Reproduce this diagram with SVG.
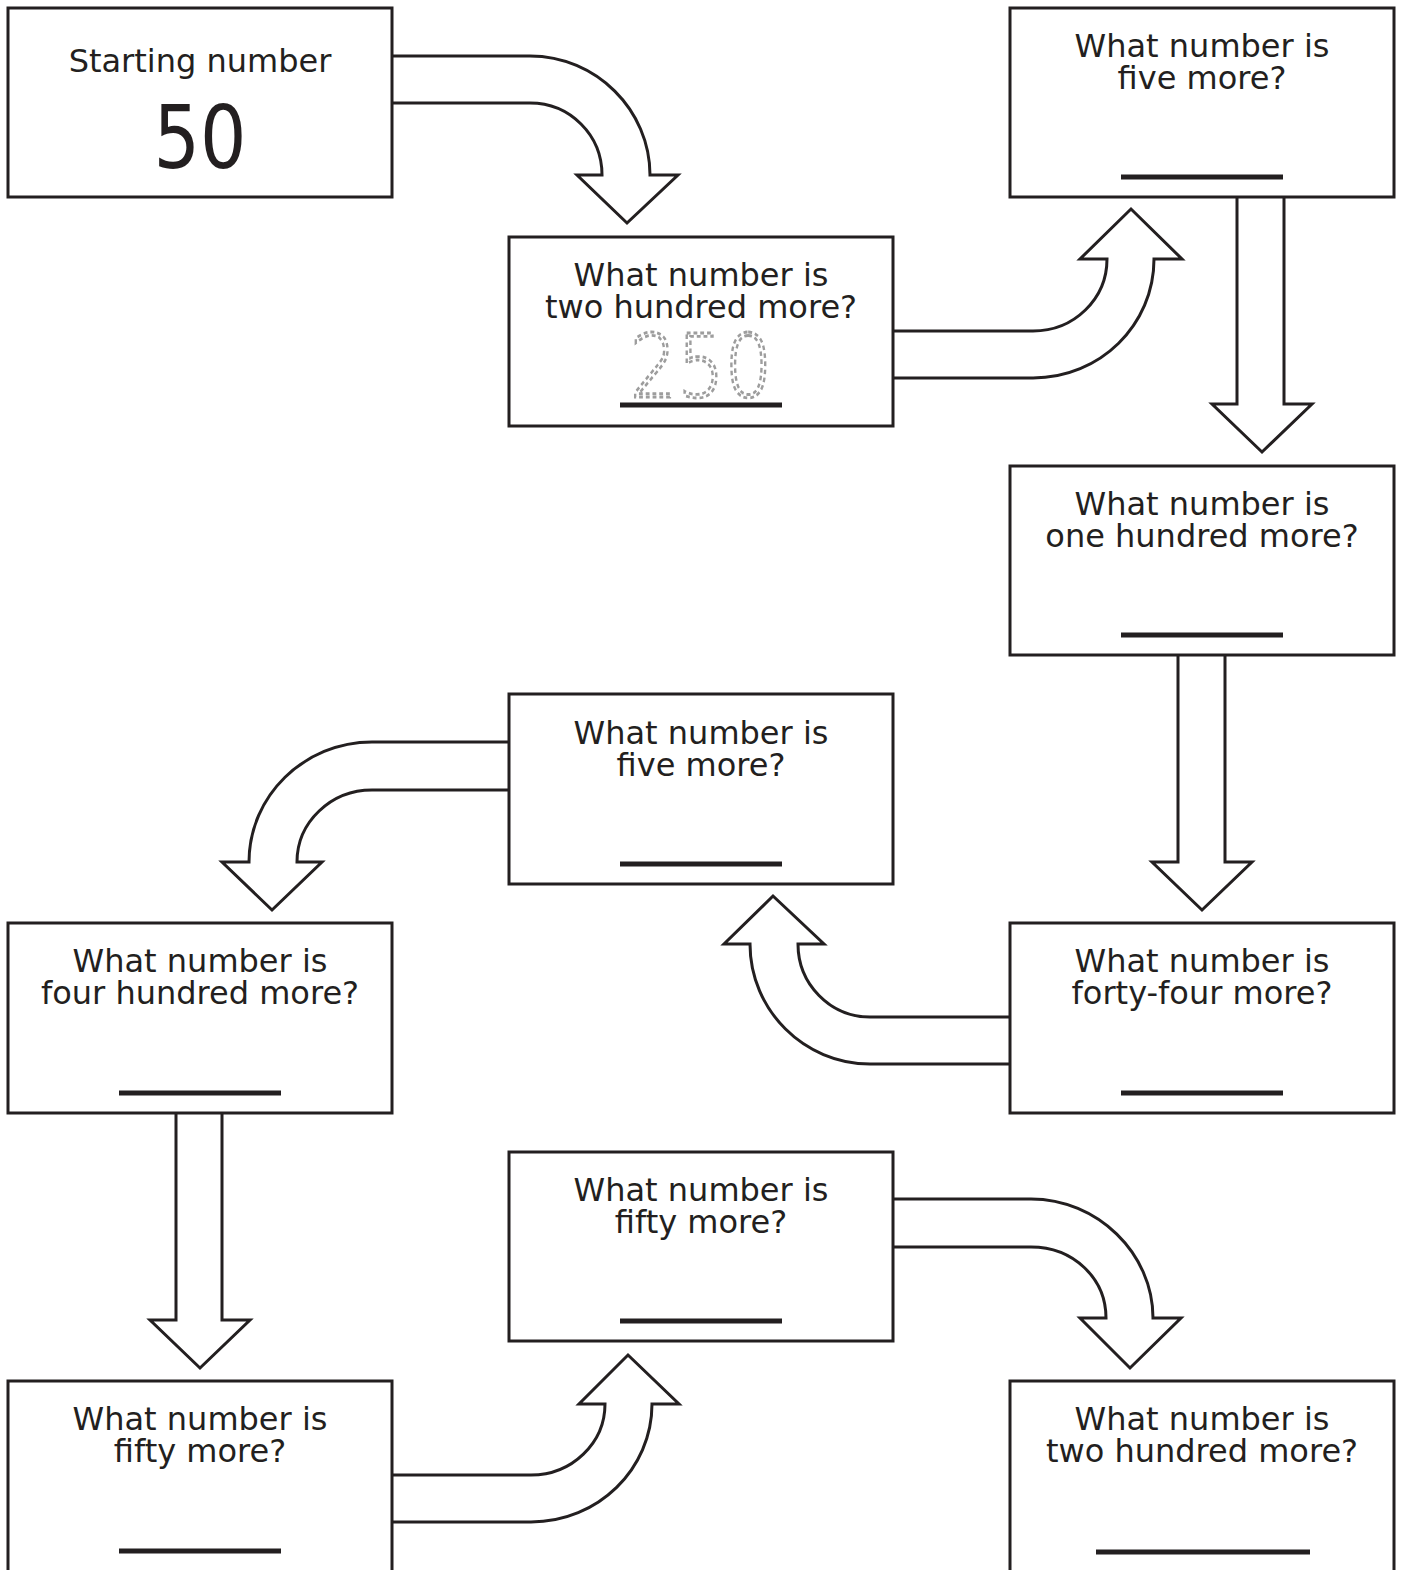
<svg xmlns="http://www.w3.org/2000/svg" width="1404" height="1570" viewBox="0 0 1404 1570">
<style>
.box{fill:#fff;stroke:#231f20;stroke-width:3}
.arr{fill:#fff;stroke:#231f20;stroke-width:3;stroke-linejoin:miter}
.t{font-family:"DejaVu Sans","Liberation Sans",sans-serif;font-size:32px;fill:#231f20;text-anchor:middle}
.ul{stroke:#231f20;stroke-width:5}
.big{font-family:"DejaVu Sans","Liberation Sans",sans-serif;font-size:88px;fill:#231f20;text-anchor:middle}
.trace{font-family:"DejaVu Sans","Liberation Sans",sans-serif;font-size:88px;font-weight:200;fill:none;stroke:#9d9d9d;stroke-width:2.8;stroke-dasharray:4.5 3.5;text-anchor:middle}
</style>
<rect width="1404" height="1570" fill="#fff"/>
<g id="connectors">
<path class="arr" d="M392,56 H530 C596,56 650,110 650,175 H678 L627,223 L577,175 H602 C602,135 570,103 530,103 H392"/>
<path class="arr" d="M893,378 H1033 C1100,378 1154,325 1154,259 H1182 L1131,209 L1080,259 H1107 C1107,299 1074,331 1033,331 H893"/>
<path class="arr" d="M1237,197 V404 H1212 L1262,452 L1312,404 H1284 V197"/>
<path class="arr" d="M1178,655 V862 H1152 L1202,910 L1252,862 H1225 V655"/>
<path class="arr" d="M1010,1064 H870 C804,1064 750,1010 750,944 H724 L773,896 L824,944 H798 C798,984 830,1017 870,1017 H1010"/>
<path class="arr" d="M509,742 H372 C304,742 249,796 249,862 H222 L272,910 L322,862 H297 C297,822 331,790 372,790 H509"/>
<path class="arr" d="M176,1113 V1320 H150 L200,1368 L250,1320 H222 V1113"/>
<path class="arr" d="M392,1522 H531 C598,1522 652,1469 652,1404 H679 L628,1355 L579,1404 H605 C605,1443 572,1475 531,1475 H392"/>
<path class="arr" d="M893,1199 H1031 C1097,1199 1153,1253 1153,1318 H1181 L1130,1368 L1080,1318 H1106 C1106,1278 1073,1247 1031,1247 H893"/>
</g>
<g id="start">
<rect class="box" x="8" y="8" width="384" height="189"/>
<text class="t" x="200" y="72">Starting number</text>
<text class="big" x="200" y="168" textLength="93" lengthAdjust="spacingAndGlyphs">50</text>
</g>
<g id="q1">
<rect class="box" x="509" y="237" width="384" height="189"/>
<text class="t" x="701" y="286">What number is</text>
<text class="t" x="701" y="318">two hundred more?</text>
<text class="trace" x="701" y="397" textLength="142" lengthAdjust="spacingAndGlyphs">250</text>
<line class="ul" x1="620" y1="405" x2="782" y2="405"/>
</g>
<g id="q2">
<rect class="box" x="1010" y="8" width="384" height="189"/>
<text class="t" x="1202" y="57">What number is</text>
<text class="t" x="1202" y="89">five more?</text>
<line class="ul" x1="1121" y1="177" x2="1283" y2="177"/>
</g>
<g id="q3">
<rect class="box" x="1010" y="466" width="384" height="189"/>
<text class="t" x="1202" y="515">What number is</text>
<text class="t" x="1202" y="547">one hundred more?</text>
<line class="ul" x1="1121" y1="635" x2="1283" y2="635"/>
</g>
<g id="q4">
<rect class="box" x="1010" y="923" width="384" height="190"/>
<text class="t" x="1202" y="972">What number is</text>
<text class="t" x="1202" y="1004">forty-four more?</text>
<line class="ul" x1="1121" y1="1093" x2="1283" y2="1093"/>
</g>
<g id="q5">
<rect class="box" x="509" y="694" width="384" height="190"/>
<text class="t" x="701" y="744">What number is</text>
<text class="t" x="701" y="776">five more?</text>
<line class="ul" x1="620" y1="864" x2="782" y2="864"/>
</g>
<g id="q6">
<rect class="box" x="8" y="923" width="384" height="190"/>
<text class="t" x="200" y="972">What number is</text>
<text class="t" x="200" y="1004">four hundred more?</text>
<line class="ul" x1="119" y1="1093" x2="281" y2="1093"/>
</g>
<g id="q7">
<rect class="box" x="8" y="1381" width="384" height="195"/>
<text class="t" x="200" y="1430">What number is</text>
<text class="t" x="200" y="1462">fifty more?</text>
<line class="ul" x1="119" y1="1551" x2="281" y2="1551"/>
</g>
<g id="q8">
<rect class="box" x="509" y="1152" width="384" height="189"/>
<text class="t" x="701" y="1201">What number is</text>
<text class="t" x="701" y="1233">fifty more?</text>
<line class="ul" x1="620" y1="1321" x2="782" y2="1321"/>
</g>
<g id="q9">
<rect class="box" x="1010" y="1381" width="384" height="195"/>
<text class="t" x="1202" y="1430">What number is</text>
<text class="t" x="1202" y="1462">two hundred more?</text>
<line class="ul" x1="1096" y1="1552" x2="1310" y2="1552"/>
</g>
</svg>
